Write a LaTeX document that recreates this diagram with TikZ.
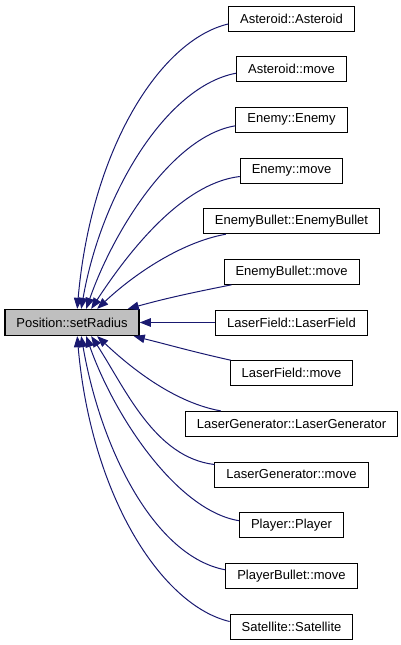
\documentclass[tikz,border=0pt]{standalone}
\usepackage{fontspec}
\setmainfont{Liberation Sans}
\usetikzlibrary{arrows.meta}
\definecolor{edgeblue}{HTML}{191970}
\definecolor{srcgray}{HTML}{BFBFBF}
\begin{document}
\begin{tikzpicture}[x=1pt,y=-1pt,
  fn/.style={draw=black, line width=1pt, fill=white, minimum height=25pt,
    inner xsep=11.5pt, inner ysep=0pt, font=\fontsize{13pt}{15pt}\selectfont},
  srcnode/.style={fn, fill=srcgray, minimum height=26pt, line width=1.3pt},
  edge/.style={draw=edgeblue, line width=1pt, -{Triangle[length=11pt,width=8.5pt]}}]
\useasboundingbox (0,0) rectangle (401,645);
\node[srcnode] (src) at (72,322.5) {Position::setRadius};
\node[fn] (a1) at (291.5,18.5) {Asteroid::Asteroid};
\node[fn] (a2) at (291.5,69.2) {Asteroid::move};
\node[fn] (a3) at (291.5,119.8) {Enemy::Enemy};
\node[fn] (a4) at (291.5,170.5) {Enemy::move};
\node[fn] (a5) at (291.5,221.2) {EnemyBullet::EnemyBullet};
\node[fn] (a6) at (291.5,271.8) {EnemyBullet::move};
\node[fn] (a7) at (291.5,322.5) {LaserField::LaserField};
\node[fn] (a8) at (291.5,373.2) {LaserField::move};
\node[fn] (a9) at (291.5,423.9) {LaserGenerator::LaserGenerator};
\node[fn] (a10) at (291.5,474.5) {LaserGenerator::move};
\node[fn] (a11) at (291.5,525.2) {Player::Player};
\node[fn] (a12) at (291.5,575.8) {PlayerBullet::move};
\node[fn] (a13) at (291.5,626.5) {Satellite::Satellite};
\draw[edge] ([yshift=-5.5pt]a1.west) .. controls +(-68,16) and +(14,-160) .. ([xshift=73pt]src.north west);
\draw[edge] ([yshift=-4pt]a2.west) .. controls +(-70,13) and +(20,-115) .. ([xshift=77pt]src.north west);
\draw[edge] ([yshift=-6pt]a3.west) .. controls +(-62,10) and +(28,-80) .. ([xshift=82pt]src.north west);
\draw[edge] ([yshift=-6pt]a4.west) .. controls +(-60,7) and +(34,-52) .. ([xshift=87pt]src.north west);
\draw[edge] ([xshift=23pt]a5.south west) .. controls +(-45,8) and +(36,-34) .. ([xshift=93pt]src.north west);
\draw[edge] ([xshift=8pt]a6.south west) .. controls +(-40,8) and +(40,-11) .. ([xshift=-12pt]src.north east);
\draw[edge] (a7.west) -- (src.east);
\draw[edge] ([xshift=1pt]a8.north west) .. controls +(-40,-9) and +(40,10) .. ([xshift=-6pt]src.south east);
\draw[edge] ([xshift=36pt]a9.north west) .. controls +(-45,-8) and +(36,34) .. ([xshift=93pt]src.south west);
\draw[edge] ([yshift=10pt]a10.west) .. controls +(-60,-7) and +(34,52) .. ([xshift=87pt]src.south west);
\draw[edge] ([yshift=4.5pt]a11.west) .. controls +(-62,-10) and +(28,80) .. ([xshift=82pt]src.south west);
\draw[edge] ([yshift=6pt]a12.west) .. controls +(-70,-13) and +(20,115) .. ([xshift=77pt]src.south west);
\draw[edge] ([yshift=5pt]a13.west) .. controls +(-68,-16) and +(14,160) .. ([xshift=73pt]src.south west);
\end{tikzpicture}
\end{document}
